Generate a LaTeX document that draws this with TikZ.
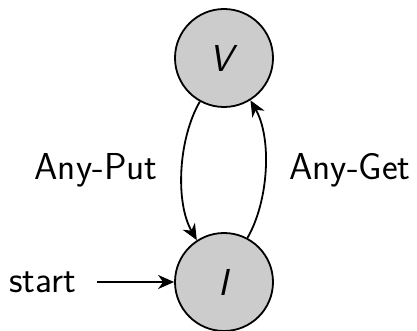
\documentclass[tikz,border=0pt]{standalone}
\usetikzlibrary{arrows.meta}
\begin{document}
\begin{tikzpicture}[x=1pt,y=-1pt,
  every node/.style={font=\fontsize{37.5}{45}\selectfont\sffamily},
  state/.style={circle,draw=black,fill=gray!40,line width=1.8pt,minimum size=98pt,inner sep=0pt},
  edge/.style={line width=1.8pt,-{Stealth[length=16pt,width=14pt,inset=5pt]}}]
  \useasboundingbox (0,0) rectangle (417,331);
  % states
  \node[state] (V) at (224,58) {\textit{V}};
  \node[state] (I) at (224,282) {\textit{I}};
  % edge labels
  \node (put) at (96,170) {Any-Put};
  \node (get) at (350,170) {Any-Get};
  % initial marker
  \node[anchor=west,inner sep=0pt] (start) at (9,282) {start};
  \coordinate (s0) at (97,282);
  % transitions
  \draw[edge] (V.241) to[out=240,in=120,looseness=0.8] (I.123);
  \draw[edge] (I.62) to[out=60,in=-60,looseness=0.8] (V.-58);
  \draw[edge] (s0) -- (I);
\end{tikzpicture}
\end{document}
